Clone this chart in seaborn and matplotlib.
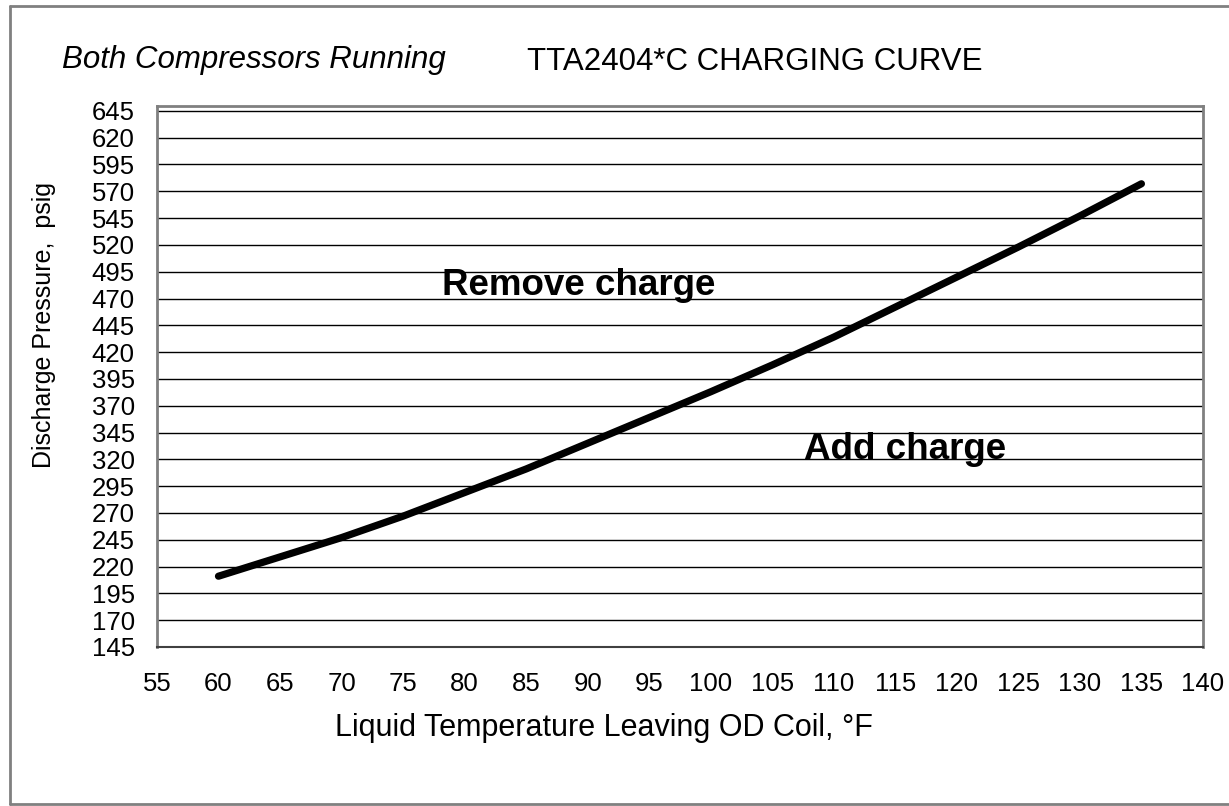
import numpy as np
import pandas as pd
import seaborn as sns
import matplotlib.pyplot as plt
from matplotlib.lines import Line2D

# values
temps = [60, 65, 70, 75, 80, 85, 90, 95, 100, 105, 110, 115, 120, 125, 130, 135]
pressures = [211, 229, 247, 267, 289, 311, 335, 359, 383, 408, 434, 462, 490, 518, 547, 577]

x_ticks = list(range(55, 141, 5))
y_ticks = list(range(145, 646, 25))

df = pd.DataFrame({"temp": temps, "pressure": pressures})

sns.set_style("white")
plt.rcParams['font.family'] = ['Liberation Sans', 'DejaVu Sans']
plt.rcParams['text.color'] = 'black'
plt.rcParams['axes.labelcolor'] = 'black'
plt.rcParams['xtick.color'] = 'black'
plt.rcParams['ytick.color'] = 'black'

fig = plt.figure(figsize=(12.29, 8.06), dpi=100)
ax = fig.add_axes([0.1277, 0.1973, 0.8511, 0.6718])

sns.lineplot(data=df, x="temp", y="pressure", ax=ax, color="black",
             linewidth=5.2, solid_capstyle="round")

ax.set_xlim(55, 140)
ax.set_ylim(145, 650)
ax.set_xticks(x_ticks)
ax.set_yticks(y_ticks)
ax.tick_params(axis="both", labelsize=18.5, length=8, width=1, color="black",
               direction="out")
ax.tick_params(axis="y", pad=8)
ax.tick_params(axis="x", pad=10)
ax.grid(axis="y", color="black", linewidth=1)
ax.set_axisbelow(True)

for side in ["left", "top", "right"]:
    ax.spines[side].set_color("#808080")
    ax.spines[side].set_linewidth(2)
ax.spines["bottom"].set_color("#404040")
ax.spines["bottom"].set_linewidth(1.5)

ax.set_xlabel("Liquid Temperature Leaving OD Coil, °F", fontsize=22)
ax.set_ylabel("Discharge Pressure,  psig", fontsize=18)
ax.xaxis.set_label_coords(0.427, -0.150)
ax.yaxis.set_label_coords(-0.108, 0.595)
ax.xaxis.label.set_va("center")
ax.yaxis.label.set_va("center")

ax.text(89.3, 482, "Remove charge", fontsize=26.5, fontweight="bold",
        ha="center", va="center")
ax.text(115.8, 329, "Add charge", fontsize=26.5, fontweight="bold",
        ha="center", va="center")

fig.text(62 / 1229, 1 - 60 / 806, "Both Compressors Running", fontsize=22.5,
         style="italic", ha="left", va="center")
fig.text(527 / 1229, 1 - 62 / 806, "TTA2404*C CHARGING CURVE", fontsize=22.5,
         ha="left", va="center")

# outer frame of the original sheet
frame = dict(color="#808080", linewidth=2, transform=fig.transFigure)
fig.add_artist(Line2D([10 / 1229, 10 / 1229], [1 - 6 / 806, 1 - 804 / 806], **frame))
fig.add_artist(Line2D([10 / 1229, 1.0], [1 - 6 / 806, 1 - 6 / 806], **frame))
fig.add_artist(Line2D([10 / 1229, 1.0], [1 - 804 / 806, 1 - 804 / 806], **frame))

fig.savefig("out.png", dpi=100)
plt.close(fig)
